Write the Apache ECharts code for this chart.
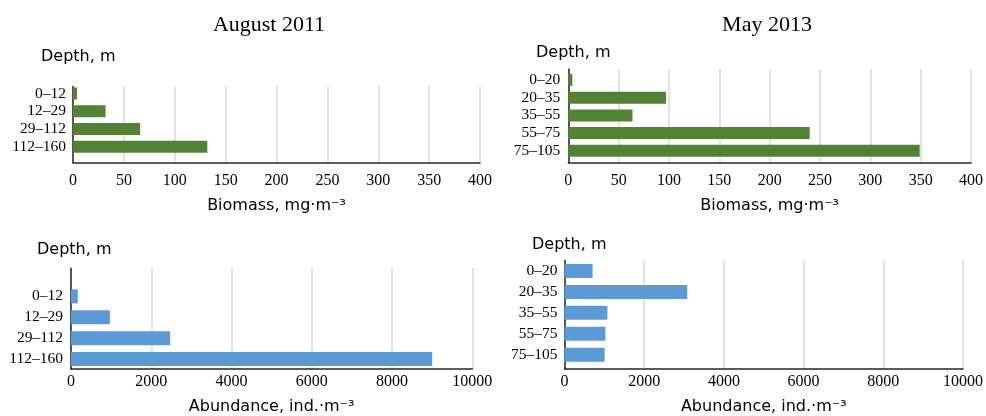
<!DOCTYPE html>
<html>
<head>
<meta charset="utf-8">
<script src="https://cdn.jsdelivr.net/npm/echarts@6/dist/echarts.min.js"></script>
<style>
  html, body { margin: 0; padding: 0; background: #ffffff; }
  #chart { width: 986px; height: 416px; }
</style>
</head>
<body>
<div id="chart"></div>
<script>
// Depth layers sampled in each survey
const depthsAug2011 = ['0–12', '12–29', '29–112', '112–160'];
const depthsMay2013 = ['0–20', '20–35', '35–55', '55–75', '75–105'];

// Biomass, mg per cubic metre
const biomassAug2011 = [4, 32, 66, 132];
const biomassMay2013 = [4, 96, 63, 237, 345];

// Abundance, individuals per cubic metre
const abundanceAug2011 = [170, 970, 2470, 9000];
const abundanceMay2013 = [700, 3060, 1070, 1020, 1000];

// Value-axis ranges (tick labels follow from min / max / interval)
const biomassTicks = { min: 0, max: 400, interval: 50 };
const abundanceTicks = { min: 0, max: 10000, interval: 2000 };

const surveyTitles = ['August 2011', 'May 2013'];
const depthName = 'Depth, m';
const biomassName = 'Biomass, mg·m⁻³';
const abundanceName = 'Abundance, ind.·m⁻³';

const SERIF = '"Liberation Serif", "Times New Roman", serif';
const SANS = '"DejaVu Sans", Verdana, sans-serif';
const GREEN = '#548235';
const BLUE = '#5b9bd5';

// Each panel: a frame grid (gridlines, axis lines, ticks) and a bar grid
// (category bands), sharing the same horizontal extent.
const panels = [
  { cats: depthsAug2011, vals: biomassAug2011, ticks: biomassTicks, name: biomassName, color: GREEN,
    x0: 73, x1: 480, top: 86.5, axisY: 162.5, barTop: 84.6, barBottom: 155.7, barWidth: 12,
    tickMargin: 10, catMargin: 7, nameGap: 35, depthX: 41, depthY: 57 },
  { cats: depthsMay2013, vals: biomassMay2013, ticks: biomassTicks, name: biomassName, color: GREEN,
    x0: 568.3, x1: 975.7, top: 69, axisY: 162.5, barTop: 71.1, barBottom: 159.7, barWidth: 12,
    tickMargin: 10, catMargin: 8, nameGap: 35, depthX: 536, depthY: 53 },
  { cats: depthsAug2011, vals: abundanceAug2011, ticks: abundanceTicks, name: abundanceName, color: BLUE,
    x0: 71, x1: 472.3, top: 268.3, axisY: 370.5, barTop: 285.9, barBottom: 369.5, barWidth: 14,
    tickMargin: 5, catMargin: 8, nameGap: 30, depthX: 37, depthY: 250 },
  { cats: depthsMay2013, vals: abundanceMay2013, ticks: abundanceTicks, name: abundanceName, color: BLUE,
    x0: 564.5, x1: 965.7, top: 260.5, axisY: 370.3, barTop: 260.5, barBottom: 365.2, barWidth: 14,
    tickMargin: 5, catMargin: 7, nameGap: 30, depthX: 532, depthY: 245 }
];

const grid = [], xAxis = [], yAxis = [], series = [], graphic = [];

panels.forEach((p, i) => {
  const gFrame = 2 * i, gBars = 2 * i + 1;
  grid.push({ left: p.x0, top: p.top, width: p.x1 - p.x0, height: p.axisY - p.top, containLabel: false });
  grid.push({ left: p.x0, top: p.barTop, width: p.x1 - p.x0, height: p.barBottom - p.barTop, containLabel: false });

  xAxis.push({
    gridIndex: gFrame, type: 'value',
    min: p.ticks.min, max: p.ticks.max, interval: p.ticks.interval,
    axisLine: { show: true, lineStyle: { color: '#262626', width: 1.5 } },
    axisTick: { show: false },
    splitLine: { show: true, lineStyle: { color: '#d9d9d9', width: 1.5 } },
    axisLabel: { fontFamily: SERIF, fontSize: 16, color: '#000', margin: p.tickMargin,
                 formatter: v => String(v) },
    name: p.name, nameLocation: 'middle', nameGap: p.nameGap,
    nameTextStyle: { fontFamily: SANS, fontSize: 16, color: '#000' }
  });
  yAxis.push({
    gridIndex: gFrame, type: 'value', min: 0, max: 1,
    axisLine: { show: true, lineStyle: { color: '#262626', width: 1.5 } },
    axisTick: { show: false }, axisLabel: { show: false }, splitLine: { show: false }
  });

  xAxis.push({ gridIndex: gBars, type: 'value', min: p.ticks.min, max: p.ticks.max, show: false });
  yAxis.push({
    gridIndex: gBars, type: 'category', inverse: true, data: p.cats,
    axisLine: { show: false }, axisTick: { show: false }, splitLine: { show: false },
    axisLabel: { interval: 0, hideOverlap: false, fontFamily: SERIF, fontSize: 15.5, color: '#000',
                 margin: p.catMargin }
  });

  series.push({
    type: 'bar', xAxisIndex: gBars, yAxisIndex: gBars, data: p.vals,
    barWidth: p.barWidth, itemStyle: { color: p.color }, silent: true
  });

  graphic.push({
    type: 'text', x: p.depthX, y: p.depthY,
    style: { text: depthName, font: '16px ' + SANS, fill: '#000', verticalAlign: 'middle' }
  });
});

graphic.push({ type: 'text', x: 269, y: 25,
  style: { text: surveyTitles[0], font: '22px ' + SERIF, fill: '#000', align: 'center', verticalAlign: 'middle' } });
graphic.push({ type: 'text', x: 767, y: 25,
  style: { text: surveyTitles[1], font: '22px ' + SERIF, fill: '#000', align: 'center', verticalAlign: 'middle' } });

const chart = echarts.init(document.getElementById('chart'), null, { renderer: 'canvas' });
chart.setOption({
  animation: false,
  backgroundColor: '#ffffff',
  grid, xAxis, yAxis, series, graphic
});
</script>
</body>
</html>
